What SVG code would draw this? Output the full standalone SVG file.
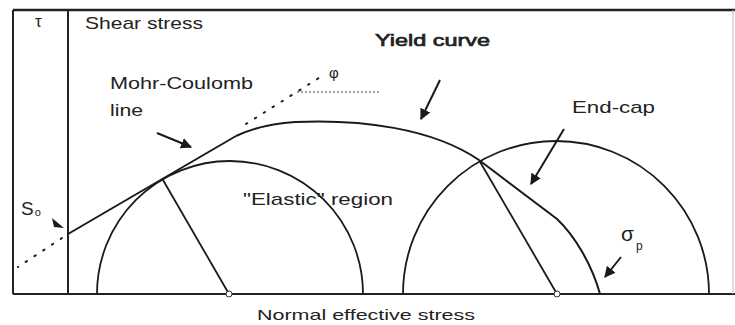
<svg xmlns="http://www.w3.org/2000/svg" width="735" height="325" viewBox="0 0 735 325">
<defs>
<style>
.t{font-family:"Liberation Sans",Arial,sans-serif;fill:#222}
.ln{fill:none;stroke:#1a1a1a;stroke-width:2}
.thin{fill:none;stroke:#1a1a1a;stroke-width:1.8}
.dot{fill:none;stroke:#222;stroke-width:2;stroke-dasharray:1.5 9;stroke-linecap:round}
.fine{fill:none;stroke:#444;stroke-width:1;stroke-dasharray:2 2}
.arr{fill:none;stroke:#1a1a1a;stroke-width:2;marker-end:url(#ah)}
</style>
<marker id="ah" viewBox="0 0 10 10" refX="9" refY="5" markerWidth="5.5" markerHeight="5.5" orient="auto" markerUnits="strokeWidth">
<path d="M0,0 L10,5 L0,10 z" fill="#1a1a1a"/>
</marker>
</defs>
<rect width="735" height="325" fill="#fff"/>
<g id="frame">
<line x1="13" y1="10" x2="735" y2="10" stroke="#222" stroke-width="2.5"/>
<line x1="13" y1="10" x2="13" y2="294" stroke="#222" stroke-width="2"/>
<line x1="68" y1="10" x2="68" y2="294" stroke="#222" stroke-width="2"/>
<line x1="13" y1="294" x2="735" y2="294" stroke="#222" stroke-width="2.2"/>
<line x1="733" y1="10" x2="733" y2="294" stroke="#bbb" stroke-width="1"/>
</g>
<g id="elastic-circle">
<path class="thin" d="M97,294 A133,133 0 0 1 363,294"/>
<line class="thin" x1="163" y1="180" x2="229" y2="294"/>
<circle cx="229" cy="294" r="3" fill="#fff" stroke="#333" stroke-width="1"/>
</g>
<g id="endcap-circle">
<path class="thin" d="M403,294 A153,153 0 0 1 709,294"/>
<line class="thin" x1="479" y1="160" x2="557" y2="294"/>
<circle cx="557" cy="294" r="3" fill="#fff" stroke="#333" stroke-width="1"/>
</g>
<g id="mohr-coulomb">
<line class="ln" x1="68" y1="234" x2="236" y2="136" stroke-width="2.4"/>
<line class="dot" x1="246" y1="124" x2="322" y2="76"/>
<line class="dot" x1="62" y1="238" x2="18" y2="267"/>
<line class="fine" x1="297" y1="92" x2="380" y2="92"/>
</g>
<g id="yield-curve">
<path class="ln" stroke-width="2.6" d="M236,136 Q262,124 295,122 C360,119 432,128 479,160"/>
<path class="ln" stroke-width="2.6" d="M479,160 L557,219 C575,236 592,265 600,294"/>
</g>
<g id="connectors">
<line class="arr" x1="157" y1="133" x2="191" y2="147"/>
<line class="arr" x1="440" y1="80" x2="421" y2="119"/>
<line class="arr" x1="564" y1="129" x2="531" y2="184"/>
<line class="arr" x1="621" y1="257" x2="605" y2="277"/>
<path d="M52,218 L64,228 L54,227 z" fill="#1a1a1a"/>
</g>
<g id="labels">
<text class="t" x="35" y="27" font-size="17">τ</text>
<text class="t" x="85" y="29" font-size="17" textLength="118" lengthAdjust="spacingAndGlyphs">Shear stress</text>
<text class="t" x="110" y="89" font-size="17" textLength="143" lengthAdjust="spacingAndGlyphs">Mohr-Coulomb</text>
<text class="t" x="110" y="116" font-size="17" textLength="33" lengthAdjust="spacingAndGlyphs">line</text>
<text class="t" x="375" y="46" font-size="17" stroke="#222" stroke-width="0.7" textLength="115" lengthAdjust="spacingAndGlyphs">Yield curve</text>
<text class="t" x="572" y="113" font-size="17" textLength="83" lengthAdjust="spacingAndGlyphs">End-cap</text>
<text class="t" x="243" y="205" font-size="17" textLength="150" lengthAdjust="spacingAndGlyphs">"Elastic" region</text>
<text class="t" x="257" y="320" font-size="15" textLength="218" lengthAdjust="spacingAndGlyphs">Normal effective stress</text>
<text class="t" x="621" y="241" font-size="21">σ<tspan font-size="12" dx="2" dy="9">p</tspan></text>
<text class="t" x="21" y="215" font-size="19">S<tspan font-size="11" dx="1" dy="1">o</tspan></text>
<text class="t" x="329" y="78" font-size="15">φ</text>
</g>
</svg>
